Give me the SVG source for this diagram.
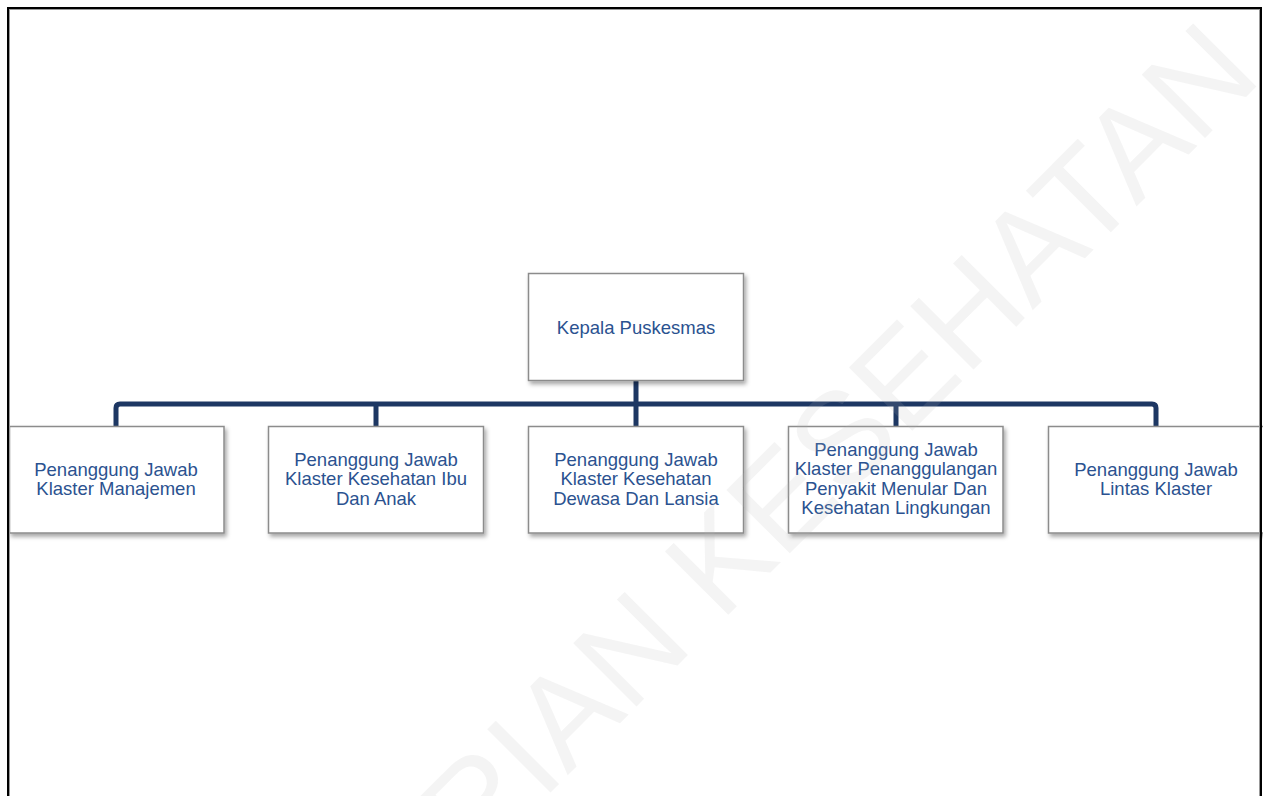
<svg xmlns="http://www.w3.org/2000/svg" width="1263" height="796" viewBox="0 0 1263 796">
<defs>
<filter id="sh" x="-10%" y="-10%" width="125%" height="130%">
<feDropShadow dx="2" dy="3" stdDeviation="2" flood-color="#000" flood-opacity="0.35"/>
</filter>
<style>
.box{fill:#fff;stroke:#8c8c8c;stroke-width:1.5;filter:url(#sh)}
.t{font-family:"Liberation Sans",Arial,sans-serif;font-size:18.5px;fill:#2b5290;text-anchor:middle}
.c{fill:none;stroke:#1d3763;stroke-width:5}
.wm{font-family:"Liberation Sans",Arial,sans-serif;font-size:130px;fill:#b8b8b8;fill-opacity:0.15;text-anchor:end}
</style>
</defs>
<rect x="0" y="0" width="1263" height="796" fill="#fff"/>
<g id="connectors">
<path class="c" d="M116,426 V408 Q116,404 120,404 H1152 Q1156,404 1156,408 V426"/>
<path class="c" d="M376,404 V426"/>
<path class="c" d="M636,381 V426"/>
<path class="c" d="M896,404 V426"/>
</g>
<g id="kepala">
<rect class="box" x="528.5" y="273.5" width="215" height="107"/>
<text class="t" x="636" y="333.5">Kepala Puskesmas</text>
</g>
<g id="manajemen">
<rect class="box" x="9.5" y="426.5" width="214.5" height="106.5"/>
<text class="t" x="116" y="475.5">Penanggung Jawab<tspan x="116" dy="19.3">Klaster Manajemen</tspan></text>
</g>
<g id="ibu-anak">
<rect class="box" x="268.5" y="426.5" width="215" height="106.5"/>
<text class="t" x="376" y="466">Penanggung Jawab<tspan x="376" dy="19.3">Klaster Kesehatan Ibu</tspan><tspan x="376" dy="19.3">Dan Anak</tspan></text>
</g>
<g id="dewasa-lansia">
<rect class="box" x="528.5" y="426.5" width="215" height="106.5"/>
<text class="t" x="636" y="466">Penanggung Jawab<tspan x="636" dy="19.3">Klaster Kesehatan</tspan><tspan x="636" dy="19.3">Dewasa Dan Lansia</tspan></text>
</g>
<g id="penyakit-menular">
<rect class="box" x="788.5" y="426.5" width="214.5" height="106.5"/>
<text class="t" x="896" y="456">Penanggung Jawab<tspan x="896" dy="19.3">Klaster Penanggulangan</tspan><tspan x="896" dy="19.3">Penyakit Menular Dan</tspan><tspan x="896" dy="19.3">Kesehatan Lingkungan</tspan></text>
</g>
<g id="lintas">
<rect class="box" x="1048.5" y="426.5" width="216" height="106.5"/>
<text class="t" x="1156" y="475.5">Penanggung Jawab<tspan x="1156" dy="19.3">Lintas Klaster</tspan></text>
</g>
<text class="wm" x="1264" y="79" transform="rotate(-45 1264 79)">KEMENTERIAN KESEHATAN</text>
<rect x="8" y="8" width="1253" height="820" fill="none" stroke="#000" stroke-width="2"/>
<rect x="9.5" y="9.5" width="1250" height="820" fill="none" stroke="#999" stroke-width="1"/>
</svg>
